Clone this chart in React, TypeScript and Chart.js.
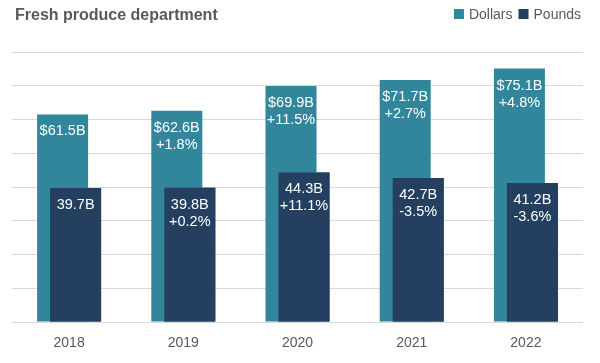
import React, { useEffect, useRef } from "react";
import { Chart, registerables } from "chart.js";

Chart.register(...registerables);

const years = ["2018", "2019", "2020", "2021", "2022"];
const dollars = [61.5, 62.6, 69.9, 71.7, 75.1];
const pounds = [39.7, 39.8, 44.3, 42.7, 41.2];
const dollarsChange = ["", "+1.8%", "+11.5%", "+2.7%", "+4.8%"];
const poundsChange = ["", "+0.2%", "+11.1%", "-3.5%", "-3.6%"];
const titleText = "Fresh produce department";
const seriesNames = ["Dollars", "Pounds"];

const FONT = "'Liberation Sans', Arial, sans-serif";
const TEAL = "#31869B";
const NAVY = "#243F60";
const GREY_TEXT = "#595959";

const overlay = {
  id: "overlay",
  afterDatasetsDraw(chart: any) {
    const ctx = chart.ctx;
    // draw Pounds on top of Dollars
    chart.getDatasetMeta(1).controller.draw();
    ctx.save();
    ctx.fillStyle = "#FFFFFF";
    ctx.font = `14.5px ${FONT}`;
    ctx.textAlign = "center";
    ctx.textBaseline = "alphabetic";
    const sets = [
      { values: dollars, changes: dollarsChange, fmt: (v: number) => `$${v.toFixed(1)}B` },
      { values: pounds, changes: poundsChange, fmt: (v: number) => `${v.toFixed(1)}B` },
    ];
    sets.forEach((s, di) => {
      const meta = chart.getDatasetMeta(di);
      meta.data.forEach((bar: any, i: number) => {
        const x = bar.x;
        const top = bar.y;
        ctx.fillText(s.fmt(s.values[i]), x, top + 21);
        if (s.changes[i]) ctx.fillText(s.changes[i], x, top + 38);
      });
    });
    ctx.restore();
  },
  afterDraw(chart: any) {
    const ctx = chart.ctx;
    ctx.save();
    ctx.fillStyle = GREY_TEXT;
    ctx.font = `bold 16px ${FONT}`;
    ctx.textAlign = "left";
    ctx.textBaseline = "alphabetic";
    ctx.fillText(titleText, 15, 20);

    ctx.font = `14px ${FONT}`;
    const colors = [TEAL, NAVY];
    let right = 581;
    for (let k = seriesNames.length - 1; k >= 0; k--) {
      const w = ctx.measureText(seriesNames[k]).width;
      const tx = right - w;
      ctx.fillStyle = GREY_TEXT;
      ctx.fillText(seriesNames[k], tx, 19);
      ctx.fillStyle = colors[k];
      ctx.fillRect(tx - 15, 9, 10, 10);
      right = tx - 21;
    }
    ctx.restore();
  },
};

export default function App() {
  const ref = useRef<HTMLCanvasElement | null>(null);
  useEffect(() => {
    if (!ref.current) return;
    const chart = new Chart(ref.current, {
      type: "bar",
      data: {
        labels: years,
        datasets: [
          { label: seriesNames[0], data: dollars, backgroundColor: TEAL, borderWidth: 0 },
          { label: seriesNames[1], data: pounds, backgroundColor: NAVY, borderWidth: 0 },
        ],
      },
      options: {
        responsive: false,
        animation: false,
        devicePixelRatio: 1,
        layout: { padding: { left: 12, right: 17, top: 52, bottom: 0 } },
        datasets: {
          bar: { categoryPercentage: 0.2277, barPercentage: 3.923 },
        } as any,
        plugins: {
          legend: { display: false },
          title: { display: false },
          tooltip: { enabled: false },
        },
        scales: {
          x: {
            grid: { display: false, drawTicks: false },
            border: { display: false },
            ticks: { color: GREY_TEXT, font: { family: FONT, size: 14 }, padding: 13 },
            afterFit: (s: any) => { s.height = 41; },
          },
          y: {
            min: 0,
            max: 80,
            ticks: { display: false, stepSize: 10 },
            grid: { color: "#D9D9D9", lineWidth: 1, drawTicks: false },
            border: { display: false },
            afterFit: (s: any) => { s.width = 0; },
          },
        },
      },
      plugins: [overlay],
    });
    return () => chart.destroy();
  }, []);
  return (
    <div style={{ position: "fixed", left: 0, top: 0, width: 600, height: 363, background: "#fff" }}>
      <canvas ref={ref} width={600} height={363} />
    </div>
  );
}
